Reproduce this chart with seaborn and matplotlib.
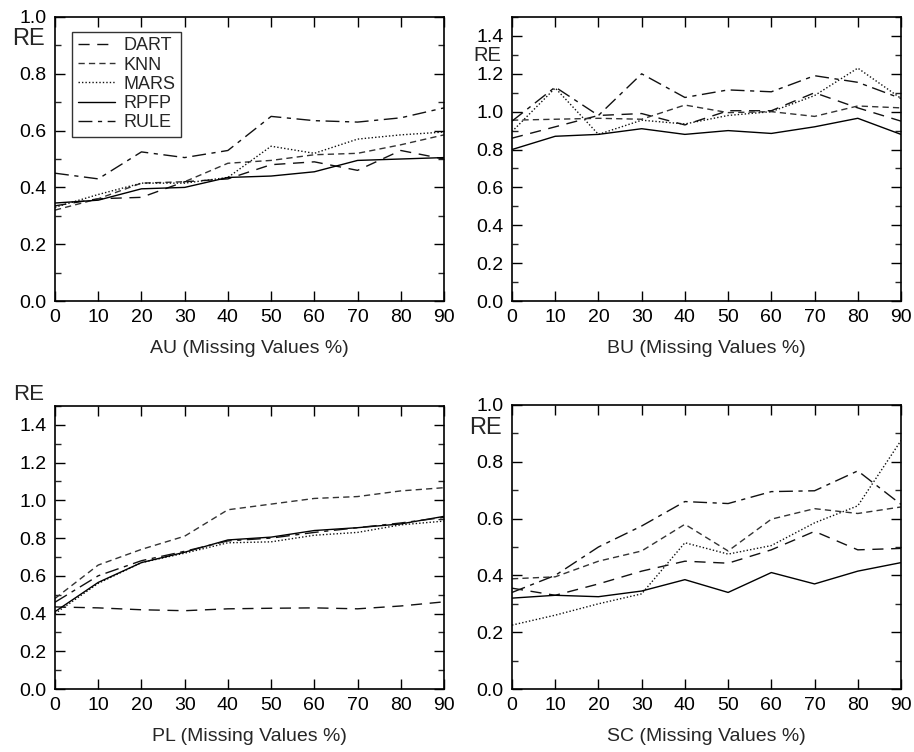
import numpy as np
import pandas as pd
import matplotlib
matplotlib.use("Agg")
import matplotlib.pyplot as plt
from matplotlib.ticker import MultipleLocator
import seaborn as sns

pct = [0, 10, 20, 30, 40, 50, 60, 70, 80, 90]
methods = ["DART", "KNN", "MARS", "RPFP", "RULE"]

# AU
au_dart = [0.335, 0.36, 0.365, 0.42, 0.43, 0.48, 0.49, 0.46, 0.53, 0.50]
au_knn = [0.32, 0.36, 0.415, 0.42, 0.485, 0.495, 0.515, 0.52, 0.55, 0.585]
au_mars = [0.33, 0.375, 0.415, 0.415, 0.435, 0.545, 0.52, 0.57, 0.585, 0.595]
au_rpfp = [0.345, 0.355, 0.395, 0.40, 0.435, 0.44, 0.455, 0.495, 0.50, 0.505]
au_rule = [0.45, 0.43, 0.525, 0.505, 0.53, 0.65, 0.635, 0.63, 0.645, 0.68]

# BU
bu_dart = [0.86, 0.92, 0.98, 0.99, 0.93, 1.005, 1.005, 1.10, 1.02, 0.95]
bu_knn = [0.955, 0.96, 0.965, 0.96, 1.035, 0.995, 1.0, 0.975, 1.03, 1.02]
bu_mars = [0.895, 1.125, 0.88, 0.955, 0.935, 0.98, 1.0, 1.085, 1.23, 1.07]
bu_rpfp = [0.80, 0.87, 0.88, 0.91, 0.88, 0.90, 0.885, 0.92, 0.965, 0.88]
bu_rule = [0.95, 1.13, 0.98, 1.20, 1.075, 1.115, 1.105, 1.19, 1.155, 1.07]

# PL
pl_dart = [0.435, 0.43, 0.42, 0.415, 0.425, 0.428, 0.43, 0.425, 0.44, 0.462]
pl_knn = [0.48, 0.657, 0.74, 0.81, 0.95, 0.98, 1.01, 1.02, 1.05, 1.067]
pl_mars = [0.40, 0.56, 0.67, 0.72, 0.775, 0.78, 0.815, 0.83, 0.87, 0.89]
pl_rpfp = [0.41, 0.565, 0.67, 0.725, 0.79, 0.805, 0.84, 0.855, 0.875, 0.915]
pl_rule = [0.46, 0.60, 0.68, 0.73, 0.785, 0.80, 0.83, 0.855, 0.88, 0.91]

# SC
sc_dart = [0.355, 0.33, 0.37, 0.415, 0.45, 0.443, 0.49, 0.555, 0.49, 0.495]
sc_knn = [0.388, 0.395, 0.45, 0.486, 0.58, 0.486, 0.598, 0.635, 0.618, 0.641]
sc_mars = [0.225, 0.26, 0.30, 0.335, 0.515, 0.475, 0.505, 0.585, 0.645, 0.875]
sc_rpfp = [0.32, 0.33, 0.325, 0.345, 0.385, 0.34, 0.41, 0.37, 0.415, 0.445]
sc_rule = [0.34, 0.40, 0.50, 0.574, 0.66, 0.653, 0.695, 0.698, 0.768, 0.65]

panels = [
    ("AU", [au_dart, au_knn, au_mars, au_rpfp, au_rule], 1.0),
    ("BU", [bu_dart, bu_knn, bu_mars, bu_rpfp, bu_rule], 1.5),
    ("PL", [pl_dart, pl_knn, pl_mars, pl_rpfp, pl_rule], 1.5),
    ("SC", [sc_dart, sc_knn, sc_mars, sc_rpfp, sc_rule], 1.0),
]

sns.set_style("ticks")
plt.rcParams["font.family"] = ["Liberation Sans", "DejaVu Sans"]
plt.rcParams["lines.scale_dashes"] = False

styles = {
    "DART": (0, (8, 5.5)),
    "KNN": (0, (4.5, 3)),
    "MARS": (0, (1, 1.5)),
    "RPFP": "-",
    "RULE": (0, (10, 4, 3, 4)),
}
colors = {"DART": "#111111", "KNN": "#333333", "MARS": "#111111",
          "RPFP": "#000000", "RULE": "#111111"}

W, H = 914, 752
fig = plt.figure(figsize=(W / 100, H / 100), dpi=100)

# axes boxes in pixel coordinates: left, top, right, bottom
boxes = [(55, 17, 444, 301), (512, 17, 901, 301),
         (55, 406, 444, 689), (512, 405, 901, 689)]
re_pos = [(-0.069, 0.922, 17), (-0.064, 0.866, 14.5),
          (-0.069, 1.04, 16), (-0.069, 0.92, 17)]

for (name, series, ymax), (l, t, r, b), (rx, ry, rfs) in zip(panels, boxes, re_pos):
    ax = fig.add_axes([l / W, 1 - b / H, (r - l) / W, (b - t) / H])
    for m, vals in zip(methods, series):
        df = pd.DataFrame({"pct": pct, "RE": vals})
        sns.lineplot(data=df, x="pct", y="RE", ax=ax, color=colors[m],
                     linestyle=styles[m], linewidth=1.0, label=m,
                     legend=False)
    ax.set_xlim(0, 90)
    ax.set_ylim(0, ymax)
    ax.set_xticks(pct)
    ax.yaxis.set_major_locator(MultipleLocator(0.2))
    ax.yaxis.set_minor_locator(MultipleLocator(0.1))
    ax.set_yticklabels([f"{v:.1f}" for v in ax.get_yticks()])
    ax.tick_params(axis="both", which="major", direction="in", length=7,
                   width=1.0, top=True, right=True, labelsize=14,
                   colors="black", pad=6)
    ax.tick_params(axis="y", which="minor", direction="in", length=4,
                   width=1.0, right=True)
    for s in ax.spines.values():
        s.set_linewidth(1.2)
        s.set_color("black")
    ax.set_xlabel(f"{name} (Missing Values %)", fontsize=14, labelpad=10)
    ax.set_ylabel("")
    ax.text(rx, ry, "RE", transform=ax.transAxes, ha="center", va="center",
            fontsize=rfs)
    if name == "AU":
        leg = ax.legend(loc="upper left", bbox_to_anchor=(0.044, 0.947),
                        borderaxespad=0, frameon=True, fancybox=False,
                        fontsize=13, handlelength=2.1, handletextpad=0.45,
                        labelspacing=0.12, borderpad=0.3)
        leg.get_frame().set_edgecolor("black")
        leg.get_frame().set_linewidth(1.0)

fig.savefig("out.png", dpi=100)
